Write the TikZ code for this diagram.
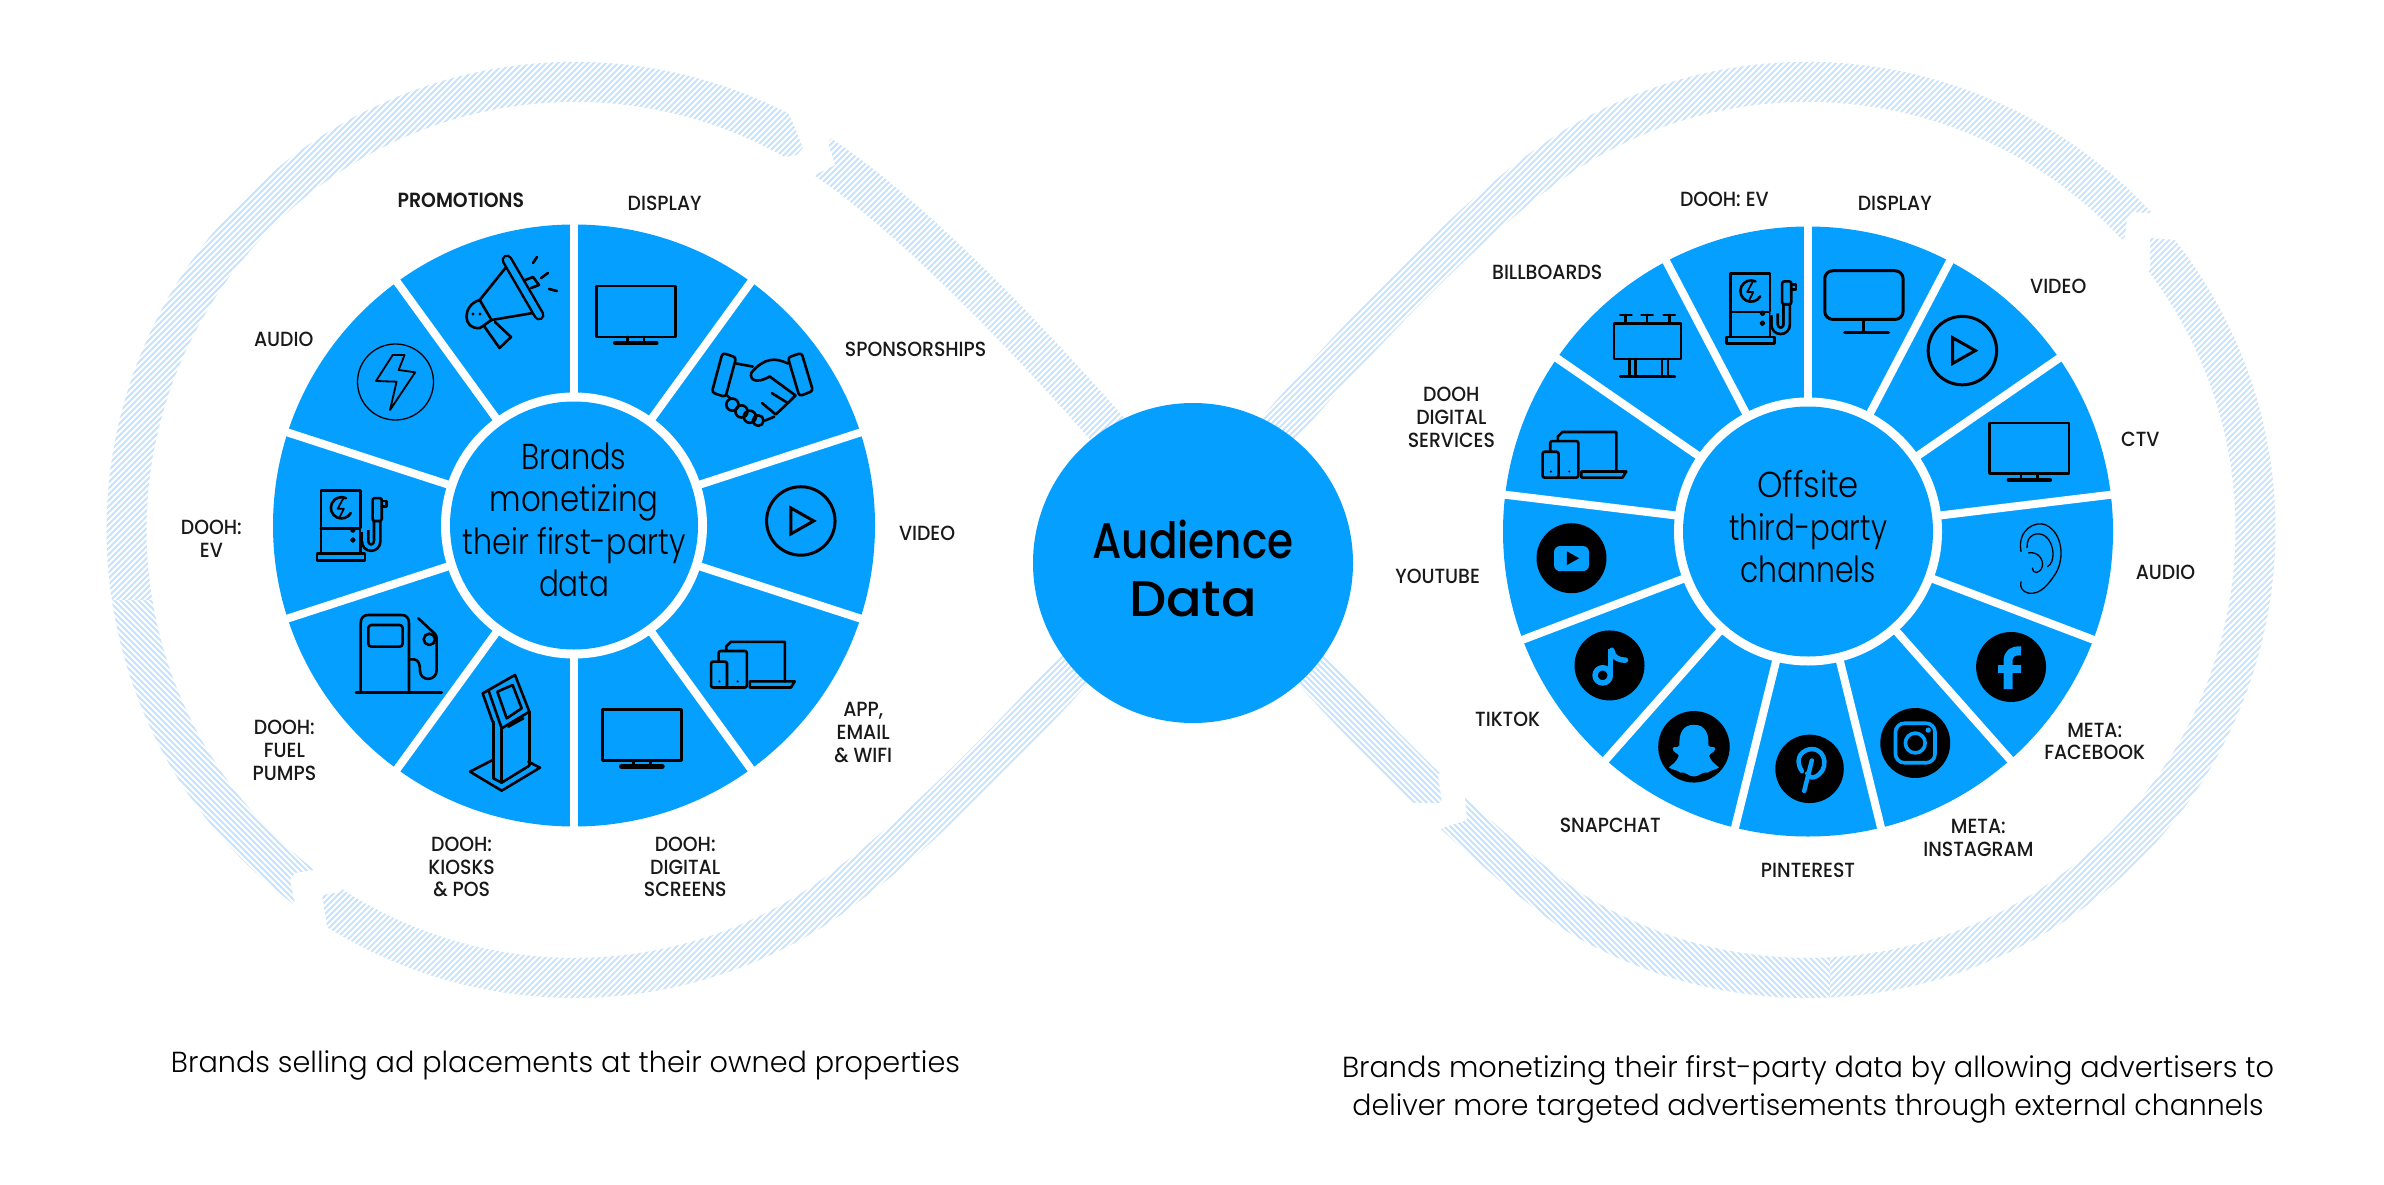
\documentclass[tikz,border=0pt]{standalone}
\usepackage{fontspec}
\usepackage{graphicx}
\setmainfont{Poppins}
\newfontfamily\labf[FakeStretch=0.92]{Poppins Medium}
\newfontfamily\labb[FakeStretch=0.92]{Poppins SemiBold}
\newfontfamily\huf{Poppins Light}
\newfontfamily\midf{Poppins Medium}
\newcommand{\fitw}[2]{\resizebox{#1pt}{\height}{#2}}
\definecolor{wheelblue}{HTML}{059FFF}
\definecolor{ribbon}{HTML}{C6E3FF}
\tikzset{
  lab/.style={align=center,inner sep=0pt,text=black!90,font=\labf\fontsize{20.5}{22.8}\selectfont},
  labbold/.style={lab,font=\labb\fontsize{20.5}{22.8}\selectfont},
  disc/.style={circle,fill=wheelblue,inner sep=0pt,minimum size=#1},
  gapring/.style={circle,fill=white,inner sep=0pt,minimum size=#1},
  hubtext/.style={align=center,text=black,font=\huf\fontsize{36}{42.5}\selectfont},
  spoke/.style={draw=white,line width=8pt},
  band/.style={draw=ribbon,line width=40pt},
  hatch/.style={draw=white,line width=2.1pt},
  ic/.style={draw=black,line width=2.6pt,line join=round,line cap=round},
  icthin/.style={draw=black,line width=1.3pt,line join=round,line cap=round},
  icb/.style={draw=wheelblue,line join=round,line cap=round},
}
\newcommand{\icontv}[1]{\begin{scope}[shift={#1}]
    \draw[ic] (-52,-34) rectangle (52,33);
    \draw[ic] (-11,33) -- (-11,39) (11,33) -- (11,39);
    \draw[ic,line width=4.5pt] (-27,41) -- (27,41);
\end{scope}}
\newcommand{\iconplay}[1]{\begin{scope}[shift={#1}]
    \draw[ic,line width=3pt] (0,0) circle (45);
    \draw[ic,line width=3pt,line join=miter] (-13,-17) -- (-13,17) -- (17,0) -- cycle;
\end{scope}}
\newcommand{\iconev}[1]{\begin{scope}[shift={#1}]
    \draw[ic] (-41,37) -- (-41,-46) -- (11,-46) -- (11,37);
    \draw[ic] (-41,4) -- (11,4);
    \draw[ic] (-46,37) rectangle (17,46);
    \draw[ic] (-8,-36) arc[start angle=-65,end angle=-330,radius=14];
    \draw[ic,line width=1.8pt] (-12,-35) -- (-19,-22) -- (-11,-22) -- (-16,-12);
    \draw[ic,line width=2pt] (1,6) circle (2.5) (1,19) circle (2.5);
    \draw[line width=9pt,draw=black,line cap=butt] (17,6) -- (17,20) .. controls (17,32) and (33,32) .. (33,20) -- (33,-6);
    \draw[line width=3.6pt,draw=wheelblue,line cap=butt] (11.5,6) -- (17,6) -- (17,20) .. controls (17,32) and (33,32) .. (33,20) -- (33,-4);
    \draw[ic,fill=wheelblue,rounded corners=2pt] (27,-36) rectangle (39,-6);
    \draw[ic] (39,-32) -- (45,-32) -- (45,-25) -- (39,-25);
\end{scope}}
\newcommand{\icondev}[1]{\begin{scope}[shift={#1}]
    \draw[ic] (-35,-18) -- (-35,-24) -- (-29,-30) -- (42,-30) -- (42,22);
    \draw[ic] (-4,22) -- (55,22) -- (50,30) -- (-4,30) -- cycle;
    \draw[ic,fill=wheelblue,rounded corners=2pt] (-45,-18) rectangle (-8,30);
    \draw[ic,fill=wheelblue,rounded corners=2pt] (-55,-4) rectangle (-34,30);
    \fill (-44,22) circle (1.6) (-20,22) circle (1.6);
\end{scope}}
\begin{document}
\begin{tikzpicture}[x=1pt,y=1pt,yscale=-1]
\useasboundingbox[fill=white] (0,0) rectangle (2384,1185);
% ----- ribbon
\draw[band] (1193,530) .. controls (1083,395) and (922,219) .. (812,150)
  arc[start angle=-58,end angle=-308,radius=448]
  .. controls (946,813) and (1093,655) .. (1193,530);
\draw[band] (1193,530) .. controls (1303,395) and (1460,219) .. (1570,150)
  arc[start angle=-122,end angle=122,radius=448]
  .. controls (1436,813) and (1293,655) .. (1193,530);
% gaps
\fill[white] (785,105) -- (835,130) -- (828,143) -- (835,165) -- (810,177) -- (800,195) -- (768,175) -- (780,158) -- (797,155) -- (803,148) -- (793,123) -- cycle;
\fill[white] (1450,763) -- (1477,786) -- (1465,798) -- (1467,820) -- (1442,828) -- (1430,840) -- (1401,815) -- (1413,803) -- (1442,803) -- (1438,775) -- cycle;
\fill[white] (2157,214) -- (2132,212) -- (2127,218) -- (2125,237) -- (2110,250) -- (2132,280) -- (2150,267) -- (2150,238) -- (2177,240) -- (2195,225) -- (2172,200) -- cycle;
\fill[white] (315,870) -- (295,873) -- (290,880) -- (295,903) -- (285,920) -- (318,945) -- (327,927) -- (322,895) -- (340,892) -- (355,875) -- (330,855) -- cycle;
% hatching
\begin{scope}
\clip (0,0) rectangle (2384,560) (0,560) rectangle (100,1185) (100,560) rectangle (318,600) (100,960) rectangle (318,1185) (318,560) rectangle (1200,1185) (1200,1020) rectangle (1830,1185) (1830,560) rectangle (2384,1185);
\foreach \i in {-1185,-1179,...,2384} \draw[hatch] (\i,1185) -- ++(1185,-1185);
\end{scope}
\begin{scope}
\clip (100,600) rectangle (318,960) (1200,560) rectangle (1830,1020);
\foreach \i in {-1185,-1179,...,2384} \draw[hatch] (\i,0) -- ++(1185,1185);
\end{scope}
% ----- left wheel
\coordinate (cL) at (574,525.5);
\node[disc=602pt] (wheelL) at (cL) {};
\foreach \k in {0,...,9} \draw[spoke] (cL) -- +(-90+\k*36:312);
\node[gapring=266pt] (ringL) at (cL) {};
\node[disc=248pt] (hubL) at (cL) {};
\node[hubtext] (hubtextL) at (574,520) {\fitw{105}{Brands}\\\fitw{169}{monetizing}\\\fitw{223}{their first-party}\\\fitw{70}{data}};
% ----- right wheel
\coordinate (cR) at (1808,531.5);
\node[disc=610pt] (wheelR) at (cR) {};
\foreach \k in {0,...,12} \draw[spoke] (cR) -- +(-90+\k*27.6923:316);
\node[gapring=268pt] (ringR) at (cR) {};
\node[disc=250pt] (hubR) at (cR) {};
\node[hubtext] (hubtextR) at (1808,527) {\fitw{102}{Offsite}\\\fitw{158}{third-party}\\\fitw{136}{channels}};
% ----- centre
\node[disc=320pt] (audience) at (1193,563) {};
\node[align=center,text=black,font=\midf\fontsize{50}{58}\selectfont] (audiencetext) at (1193,568) {\fitw{201}{Audience}\\\fitw{128}{Data}};
% ----- captions
\node[align=center,font=\huf\fontsize{29}{38}\selectfont] (capL) at (565.5,1065) {\fitw{789}{Brands selling ad placements at their owned properties}};
\node[align=center,font=\huf\fontsize{29}{38}\selectfont] (capR) at (1808,1089) {\fitw{932}{Brands monetizing their first-party data by allowing advertisers to}\\\fitw{911}{deliver more targeted advertisements through external channels}};
% ----- megaphone and bolt (picture coordinates)
\draw[ic] (505.4,268) -- (479.7,300) (491.5,320) -- (533,313);
\draw[line width=11pt,draw=black,line cap=round] (507,260) -- (539,315);
\draw[line width=6pt,draw=wheelblue,line cap=round] (507,260) -- (539,315);
\draw[ic] (479.7,300) .. controls (462,305) and (462,330) .. (480,328) -- (491.5,320) -- cycle;
\fill (473,314) circle (1.6) (480,314) circle (1.6);
\draw[ic] (484,326) -- (499.5,348) -- (511,337) -- (495,322);
\draw[ic] (525,280) -- (533,277) -- (539,285) -- (531,288);
\draw[ic] (533,263) -- (537,257) (541,278) -- (548,273) (549,289) -- (557,291);
\draw[icthin] (395.5,382) circle (38);
\draw[icthin,line width=1.8pt] (392.7,355) -- (404.6,355) -- (398.6,370) -- (415.2,372.3) -- (390,410) -- (396.6,381.7) -- (376,381) -- cycle;
% ----- fuel pump and kiosk, in units of a 3x crop
\begin{scope}[shift={(340,600)},scale=0.33333]
\draw[ic] (62,272) -- (62,70) .. controls (62,52) and (72,45) .. (85,45) -- (185,45) .. controls (198,45) and (207,52) .. (207,70) -- (207,272);
\draw[ic,rounded corners=3pt] (85,75) rectangle (188,140);
\draw[ic,line width=3pt] (48,276) -- (305,276);
\draw[ic] (207,178) -- (222,178) .. controls (236,180) and (240,192) .. (240,212) .. controls (240,245) and (290,245) .. (290,210) -- (290,115) .. controls (290,105) and (282,98) .. (270,88) -- (235,55);
\draw[ic] (268,118) circle (17);
\draw[ic] (458,480) -- (390,515) -- (485,572) -- (600,503) -- (565,485);
\draw[ic] (460,535) -- (460,365) (485,548) -- (485,385) (568,495) -- (568,335);
\draw[ic] (460,535) -- (485,548) -- (568,497);
\draw[ic] (458,365) -- (428,280) -- (525,225) -- (568,335) -- (485,385) -- (445,270);
\draw[ic] (472,275) -- (518,255) -- (545,325) -- (500,355) -- cycle;
\draw[ic] (505,380) -- (550,355);
\end{scope}
% ----- left wheel icons and labels, in units of a 1.315x crop
\begin{scope}[scale=0.7605]
\icontv{(836,410)}
\icontv{(844,967)}
\iconplay{(1053,685)}
\iconev{(463,691)}
\icondev{(990,874)}
% handshake
\draw[ic,rounded corners=3pt] (950,464) -- (968,470) -- (954,522) -- (936,516) -- cycle;
\draw[ic,rounded corners=3pt] (1036,470) -- (1054,464) -- (1069,514) -- (1051,521) -- cycle;
\draw[ic] (968,478) -- (990,482) (1036,478) .. controls (1020,470) and (1005,470) .. (988,490) .. controls (985,500) and (995,505) .. (1012,495) -- (1046,520) -- (1036,530) -- (1015,517);
\draw[ic] (1036,530) -- (1020,545) -- (1002,530) (1018,548) -- (1006,553);
\draw[ic] (956,520) -- (965,528);
\draw[ic,fill=wheelblue] (963,532) circle (8) (975,541) circle (8) (986,548) circle (8) (997,553) circle (7);
% labels
\node[labbold] (l1) at (606,264) {PROMOTIONS};
\node[lab] (l2) at (874,268) {DISPLAY};
\node[lab] (l3) at (1204,459) {SPONSORSHIPS};
\node[lab] (l4) at (1219,701) {VIDEO};
\node[lab] (l5) at (1135,963) {APP,\\EMAIL\\\& WIFI};
\node[lab] (l6) at (901,1140) {DOOH:\\DIGITAL\\SCREENS};
\node[lab] (l7) at (607,1140) {DOOH:\\KIOSKS\\\& POS};
\node[lab] (l8) at (374,987) {DOOH:\\FUEL\\PUMPS};
\node[lab] (l9) at (278,708) {DOOH:\\EV};
\node[lab] (l10) at (373,446) {AUDIO};
\end{scope}
% ----- right wheel icons and labels
\begin{scope}[shift={(1192,0)},scale=0.7605]
\iconev{(749,406)}
\iconplay{(1013,461)}
\icontv{(1101,590)}
\icondev{(516,598)}
% rounded monitor
\draw[ic,line width=3pt,rounded corners=8pt] (832,356) rectangle (935,420);
\draw[ic,line width=3pt] (883,420) -- (883,436) (858,437) -- (916,437);
% billboard
\draw[ic] (555,425) rectangle (643,472);
\draw[ic] (563,414) -- (578,414) (591,414) -- (606,414) (620,414) -- (635,414);
\draw[ic] (570,414) -- (570,425) (598,414) -- (598,425) (628,414) -- (628,425);
\draw[ic] (575,472) -- (575,495) (583,472) -- (583,495) (618,472) -- (618,495) (626,472) -- (626,495);
\draw[ic] (563,495) -- (635,495);
% ear
\draw[icthin] (1090,725) .. controls (1085,695) and (1110,685) .. (1122,690) .. controls (1145,700) and (1148,735) .. (1135,755) .. controls (1125,770) and (1115,782) .. (1100,780) .. controls (1092,778) and (1088,772) .. (1090,765);
\draw[icthin] (1098,720) .. controls (1097,703) and (1112,698) .. (1122,705) .. controls (1135,715) and (1135,740) .. (1125,745);
\draw[icthin] (1100,727) .. controls (1112,725) and (1120,735) .. (1118,745) .. controls (1115,755) and (1105,755) .. (1105,747);
% social badges
\fill[black] (499,734) circle (46) (549,875) circle (46) (660,982) circle (47) (812,1011) circle (45) (951,977) circle (46) (1077,877) circle (46);
% youtube
\fill[wheelblue,rounded corners=6pt] (476,718) rectangle (522,751);
\fill[black] (493,725) -- (493,743) -- (509,734) -- cycle;
% tiktok
\draw[icb,line width=5.5pt] (540,888) circle (10);
\draw[icb,line width=5.5pt,line cap=butt] (550,888) -- (550,853);
\draw[icb,line width=5.5pt] (552,855) .. controls (553,864) and (560,868) .. (570,868);
% snapchat
\fill[wheelblue] (660,953) .. controls (675,953) and (680,965) .. (679,980) .. controls (682,985) and (686,980) .. (688,984) .. controls (688,990) and (680,990) .. (680,994) .. controls (684,1004) and (690,1006) .. (693,1009) .. controls (688,1013) and (682,1012) .. (678,1016) .. controls (670,1014) and (668,1021) .. (660,1021) .. controls (652,1021) and (650,1014) .. (642,1016) .. controls (638,1012) and (632,1013) .. (627,1009) .. controls (630,1006) and (636,1004) .. (640,994) .. controls (640,990) and (632,990) .. (632,984) .. controls (634,980) and (638,985) .. (641,980) .. controls (640,965) and (645,953) .. (660,953) -- cycle;
% pinterest
\draw[icb,line width=4.5pt] (802,1014) .. controls (790,995) and (805,985) .. (815,985) .. controls (835,985) and (838,1015) .. (818,1022) .. controls (812,1023) and (810,1020) .. (809,1017);
\draw[icb,line width=4.5pt] (815,1000) -- (805,1040);
% instagram
\draw[icb,line width=3.6pt,rounded corners=9pt] (925,951) rectangle (977,1003);
\draw[icb,line width=3.6pt] (951,977) circle (13);
\fill[wheelblue] (968,960) circle (3.5);
% facebook
\draw[icb,line width=9pt,line cap=butt] (1073,906) -- (1073,870) .. controls (1073,860) and (1078,855) .. (1090,856);
\draw[icb,line width=8pt,line cap=butt] (1060,880) -- (1090,880);
% labels
\node[lab] (r1) at (700,262) {DOOH: EV};
\node[lab] (r2) at (924,268) {DISPLAY};
\node[lab] (r3) at (1139,377) {VIDEO};
\node[lab] (r4) at (1247,578) {CTV};
\node[lab] (r5) at (1280,752) {AUDIO};
\node[lab] (r6) at (1187,975) {META:\\FACEBOOK};
\node[lab] (r7) at (1034,1102) {META:\\INSTAGRAM};
\node[lab] (r8) at (810,1144) {PINTEREST};
\node[lab] (r9) at (550,1085) {SNAPCHAT};
\node[lab] (r10) at (415,946) {TIKTOK};
\node[lab] (r11) at (323,758) {YOUTUBE};
\node[lab] (r12) at (341,549) {DOOH\\DIGITAL\\SERVICES};
\node[lab] (r13) at (467,358) {BILLBOARDS};
\end{scope}
\end{tikzpicture}
\end{document}
